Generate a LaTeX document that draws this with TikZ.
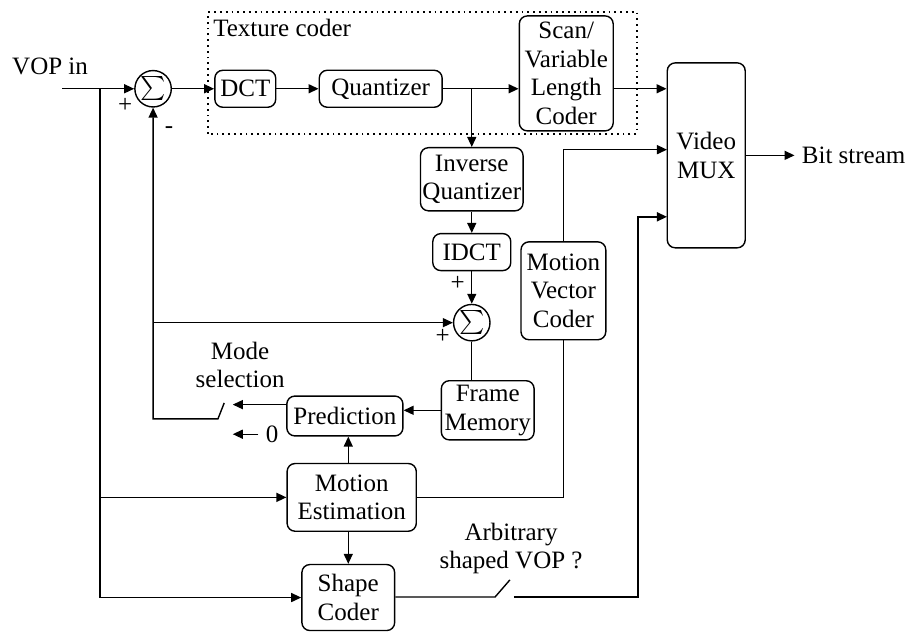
\documentclass[tikz,border=0pt]{standalone}
\usepackage{amsmath}
\usepackage{fontspec}
\setmainfont{Liberation Serif}
\usetikzlibrary{arrows.meta}

\begin{document}
\begin{tikzpicture}[>={Triangle[length=5pt,width=4.5pt]}, line width=0.7pt,
  font=\fontsize{12.5}{14.3}\selectfont,
  blk/.style={draw, rounded corners=4pt, align=center, inner sep=1pt},
  adder/.style={draw, circle, minimum size=0.64cm, inner sep=0pt, font=\fontsize{13}{13}\selectfont},
  sgn/.style={inner sep=0pt}]
\useasboundingbox (0,0) rectangle (15.92,11.12);
% texture coder frame
\draw[dotted, line width=0.9pt] (3.66,8.77) rectangle (11.19,10.91);
\node[anchor=west, inner sep=1pt] (txt) at (3.70,10.63) {Texture coder};
% blocks
\node (vin) at (0.88,9.96) {VOP in};
\node[adder] (sum1) at (2.69,9.56) {$\sum$};
\node[blk, minimum width=1.07cm, minimum height=0.65cm] (dct) at (4.31,9.56) {DCT};
\node[blk, minimum width=2.16cm, minimum height=0.65cm] (quant) at (6.69,9.56) {Quantizer};
\node[blk, minimum width=1.65cm, minimum height=2.02cm] (vlc) at (9.95,9.83) {Scan/\\Variable\\Length\\Coder};
\node[blk, minimum width=1.37cm, minimum height=3.25cm] (mux) at (12.41,8.39) {Video\\MUX};
\node (bits) at (15.00,8.39) {Bit stream};
\node[blk, minimum width=1.77cm, minimum height=1.11cm] (iq) at (8.29,7.97) {Inverse\\Quantizer};
\node[blk, minimum width=1.37cm, minimum height=0.65cm] (idct) at (8.29,6.69) {IDCT};
\node[adder] (sum2) at (8.29,5.45) {$\sum$};
\node[blk, minimum width=1.49cm, minimum height=1.72cm] (mvc) at (9.90,6.01) {Motion\\Vector\\Coder};
\node[blk, minimum width=1.63cm, minimum height=1.04cm] (fm) at (8.57,3.91) {Frame\\Memory};
\node[blk, minimum width=2.04cm, minimum height=0.70cm] (pred) at (6.06,3.81) {Prediction};
\node[blk, minimum width=2.27cm, minimum height=1.19cm] (me) at (6.18,2.38) {Motion\\Estimation};
\node[blk, minimum width=1.63cm, minimum height=1.16cm] (shape) at (6.12,0.62) {Shape\\Coder};
% labels
\node[align=center] (mode) at (4.22,4.71) {Mode\\selection};
\node (zero) at (4.78,3.49) {0};
\node[align=center] (arb) at (8.98,1.48) {Arbitrary\\shaped VOP ?};
\node[sgn] (p1) at (2.20,9.26) {+};
\node[sgn] (m1) at (2.97,8.84) {-};
\node[sgn] (p2) at (8.04,6.14) {+};
\node[sgn] (p3) at (7.78,5.20) {+};
% helper points
\coordinate (in) at (1.09,9.56);
\coordinate (tap) at (1.76,9.56);
\coordinate (brq) at (8.29,9.56);
\coordinate (swpiv) at (3.83,3.76);
\coordinate (swtip) at (3.94,4.04);
\coordinate (modeA) at (4.09,4.01);
\coordinate (modeB) at (4.09,3.49);
\coordinate (muxB) at (11.72,8.49);
\coordinate (muxC) at (11.72,7.31);
\coordinate (shpA) at (8.70,0.63);
\coordinate (shpB) at (8.96,0.93);
\coordinate (shpC) at (9.03,0.63);
\coordinate (shpD) at (11.21,7.31);
% connectors
\draw (in) -- (tap);
\draw[->] (tap) -- (sum1.west);
\draw[->] (tap |- me.west) -- (me.west);
\draw[->] (tap) |- (shape.west);
\draw[->] (sum1.east) -- (dct.west);
\draw[->] (dct.east) -- (quant.west);
\draw[->] (quant.east) -- (vlc.west |- quant.east);
\draw[->] (vlc.east |- quant.east) -- (mux.west |- quant.east);
\draw[->] (mux.east) -- (bits.west);
\draw[->] (brq) -- (iq.north);
\draw[->] (iq.south) -- (idct.north);
\draw[->] (idct.south) -- (sum2.north);
\draw (sum2.south) -- (sum2 |- fm.north);
\draw[->] (sum1 |- sum2) -- (sum2.west);
\draw[->] (swtip) -- (swpiv) -| (sum1.south);
\draw[->] (fm.west) -- (pred.east |- fm.west);
\draw[->] (modeA -| pred.west) -- (modeA);
\draw[->] (zero.west) -- (modeB);
\draw[->] (me.north -| shape) -- (pred.south -| shape);
\draw[->] (me.south -| shape) -- (shape.north);
\draw (me.east) -| (mvc.south);
\draw[->] (mvc.north) |- (muxB);
\draw (shape.east |- shpA) -- (shpA) -- (shpB);
\draw[->] (shpC) -| (shpD) -- (muxC);
\end{tikzpicture}
\end{document}
